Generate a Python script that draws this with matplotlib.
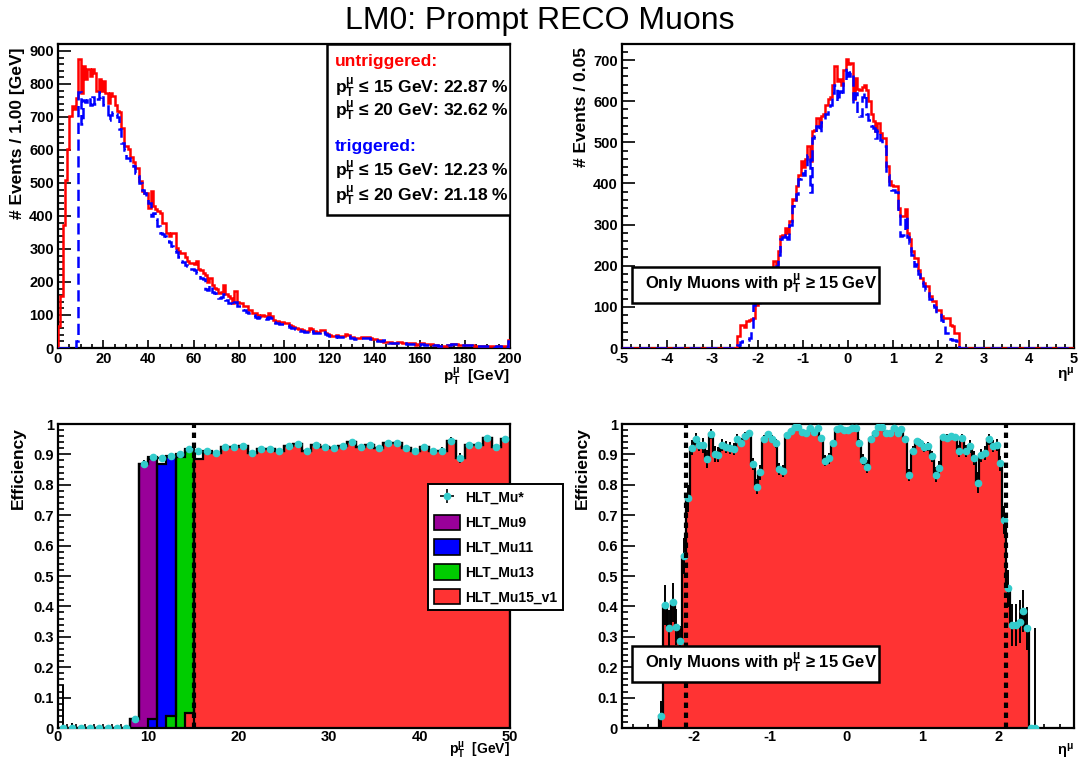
import numpy as np
import matplotlib
matplotlib.use("Agg")
import matplotlib.pyplot as plt
from matplotlib.ticker import MultipleLocator, FuncFormatter
from matplotlib.patches import Rectangle, Patch

plt.rcParams['font.family'] = ['Liberation Sans', 'DejaVu Sans']
plt.rcParams['font.weight'] = 'bold'
plt.rcParams['axes.labelweight'] = 'bold'
plt.rcParams['axes.unicode_minus'] = False
plt.rcParams['mathtext.fontset'] = 'custom'
plt.rcParams['mathtext.rm'] = 'Liberation Sans'
plt.rcParams['mathtext.bf'] = 'Liberation Sans:bold'
plt.rcParams['mathtext.it'] = 'Liberation Sans:italic'

# ---- muon pT spectrum, 1 GeV bins from 0 to 200 GeV ----
pt_untriggered = [
    66, 157, 374, 510, 602, 703, 733, 723, 758, 875,
    773, 854, 814, 844, 824, 844, 834, 778, 814, 778,
    809, 773, 743, 773, 763, 735, 718, 715, 667, 612,
    612, 602, 580, 565, 546, 546, 505, 475, 470, 470,
    425, 475, 430, 420, 414, 409, 379, 379, 349, 339,
    349, 349, 303, 295, 288, 288, 275, 263, 258, 258,
    255, 263, 238, 235, 227, 220, 200, 212, 190, 182,
    180, 167, 170, 192, 165, 157, 150, 136, 172, 140,
    136, 136, 126, 126, 116, 116, 106, 106, 100, 98,
    100, 96, 96, 105, 98, 85, 80, 82, 80, 78,
    77, 76, 70, 67, 65, 62, 58, 57, 55, 53,
    52, 60, 58, 50, 49, 48, 55, 54, 46, 42,
    40, 37, 37, 38, 36, 37, 36, 41, 40, 34,
    33, 31, 30, 31, 34, 33, 34, 34, 30, 27,
    27, 24, 24, 22, 19, 19, 17, 17, 16, 16,
    17, 17, 16, 16, 14, 14, 14, 14, 9, 11,
    14, 14, 11, 11, 12, 12, 9, 9, 7, 7,
    7, 7, 10, 10, 12, 12, 12, 10, 10, 10,
    10, 9, 10, 8, 6, 6, 7, 7, 7, 6,
    6, 7, 6, 5, 6, 6, 5, 6, 5, 24,
]
pt_triggered = [
    0, 0, 0, 0, 0, 0, 0, 0, 20, 775,
    680, 750, 745, 760, 735, 760, 740, 755, 775, 760,
    735, 740, 690, 705, 715, 710, 700, 662, 622, 600,
    576, 576, 560, 551, 530, 520, 500, 480, 470, 460,
    440, 400, 410, 390, 369, 349, 345, 339, 323, 320,
    310, 298, 290, 275, 263, 260, 250, 248, 240, 238,
    235, 227, 225, 212, 210, 180, 177, 190, 170, 167,
    160, 152, 155, 165, 145, 136, 136, 130, 140, 126,
    126, 120, 115, 110, 106, 106, 100, 95, 91, 93,
    91, 90, 88, 95, 90, 78, 75, 76, 74, 72,
    72, 70, 65, 62, 60, 57, 54, 52, 50, 48,
    47, 55, 52, 46, 45, 44, 50, 49, 42, 39,
    37, 34, 34, 35, 33, 34, 33, 37, 36, 31,
    30, 28, 27, 28, 31, 30, 31, 31, 27, 25,
    25, 22, 22, 20, 24, 17, 15, 16, 15, 14,
    15, 16, 14, 14, 13, 13, 13, 12, 8, 10,
    13, 12, 10, 10, 11, 11, 8, 8, 6, 6,
    6, 6, 9, 9, 11, 11, 11, 9, 9, 9,
    9, 8, 9, 7, 5, 5, 6, 6, 6, 5,
    5, 6, 5, 4, 5, 5, 4, 5, 4, 20,
]
pt_cuts = [15, 20]
frac_untriggered = [22.87, 32.62]
frac_triggered = [12.23, 21.18]

# ---- muon eta for pT >= 15 GeV, 0.05 bins from -2.45 to 2.45 ----
eta_untriggered = [
    28, 57, 57, 52, 66, 68, 70, 72, 105, 112,
    125, 140, 150, 160, 178, 195, 212, 205, 235, 272,
    275, 292, 280, 308, 362, 360, 395, 420, 455, 440,
    460, 490, 455, 528, 530, 560, 540, 565, 570, 590,
    605, 610, 640, 686, 650, 655, 640, 675, 703,
    690, 692, 605, 657, 630, 628, 635, 640, 628, 600,
    568, 551, 527, 547, 523, 511, 511, 442, 405, 397,
    393, 393, 340, 320, 320, 337, 280, 264, 235, 219,
    219, 190, 170, 158, 150, 150, 126, 114, 114, 93,
    93, 77, 73, 73, 73, 57, 53, 36, 36,
]
eta_triggered = [
    8, 15, 18, 20, 20, 25, 45, 105, 110, 108,
    120, 130, 145, 155, 170, 190, 195, 200, 225, 265,
    270, 280, 265, 300, 345, 350, 375, 410, 425, 420,
    440, 470, 380, 510, 515, 540, 525, 550, 555, 570,
    580, 590, 620, 640, 600, 625, 615, 650, 680,
    660, 670, 595, 620, 570, 565, 610, 620, 570, 555,
    540, 535, 510, 530, 505, 495, 490, 420, 390, 385,
    385, 380, 330, 272, 275, 320, 270, 255, 225, 200,
    205, 180, 160, 150, 140, 140, 118, 105, 100, 85,
    85, 68, 60, 36, 36, 22, 20, 20, 18,
]
eta_hist_range = (-2.45, 2.45)

# ---- trigger efficiency vs pT, 1 GeV bins from 0 to 50 GeV ----
eff_pt = [
    0, 0, 0, 0, 0, 0, 0, 0, 0.03, 0.87,
    0.890, 0.888, 0.894, 0.901, 0.917, 0.910, 0.912, 0.905, 0.925, 0.923,
    0.928, 0.906, 0.917, 0.917, 0.912, 0.926, 0.933, 0.910, 0.932, 0.924,
    0.922, 0.926, 0.940, 0.924, 0.931, 0.921, 0.936, 0.938, 0.922, 0.912,
    0.925, 0.910, 0.912, 0.945, 0.888, 0.930, 0.930, 0.953, 0.923, 0.950,
]
eff_pt_err = [
    0.14, 0.015, 0.008, 0.005, 0.004, 0.003, 0.003, 0.003, 0.008, 0.012,
    0.01, 0.01, 0.01, 0.01, 0.01, 0.01, 0.01, 0.01, 0.01, 0.01,
    0.01, 0.01, 0.01, 0.01, 0.01, 0.01, 0.01, 0.01, 0.01, 0.01,
    0.01, 0.01, 0.01, 0.01, 0.01, 0.01, 0.01, 0.01, 0.01, 0.01,
    0.01, 0.01, 0.012, 0.012, 0.015, 0.012, 0.012, 0.012, 0.012, 0.012,
]
# single-trigger efficiencies around their thresholds: (first bin edge, values)
trig_names = ['HLT_Mu9', 'HLT_Mu11', 'HLT_Mu13', 'HLT_Mu15_v1']
trig_colors = ['#990099', '#0000ff', '#00cc00', '#ff3333']
trig_start = [8, 10, 12, 14]
trig_eff = [
    [0.03, 0.87, 0.885],
    [0.03, 0.87, 0.89],
    [0.04, 0.89, 0.91],
    [0.05, 0.885, 0.905] + eff_pt[17:],
]

# ---- trigger efficiency vs eta for pT >= 15 GeV, 0.05 bins from -2.45 to 2.5 ----
eff_eta = [
    0.04, 0.405, 0.328, 0.413, 0.333, 0.287, 0.566, 0.755, 0.922,
    0.950, 0.930, 0.930, 0.886, 0.967, 0.901, 0.899, 0.932, 0.925, 0.921,
    0.917, 0.952, 0.939, 0.961, 0.969, 0.868, 0.794, 0.841, 0.951, 0.967,
    0.951, 0.937, 0.853, 0.845, 0.965, 0.976, 0.989, 0.989, 0.973, 0.969,
    0.987, 0.974, 0.987, 0.954, 0.879, 0.887, 0.937, 0.982, 0.987, 0.980,
    0.980, 0.987, 0.987, 0.939, 0.883, 0.860, 0.950, 0.972, 0.989, 0.989,
    0.969, 0.972, 0.987, 0.969, 0.982, 0.950, 0.831, 0.912, 0.943, 0.939,
    0.924, 0.926, 0.894, 0.833, 0.855, 0.956, 0.954, 0.959, 0.956, 0.910,
    0.954, 0.910, 0.926, 0.888, 0.807, 0.897, 0.904, 0.950, 0.928, 0.932,
    0.871, 0.684, 0.459, 0.339, 0.339, 0.350, 0.385, 0.328, 0.0, 0.0,
]
eff_eta_err = [
    0.05, 0.065, 0.06, 0.065, 0.06, 0.05, 0.06, 0.045, 0.025,
    0.02, 0.02, 0.025, 0.03, 0.015, 0.025, 0.025, 0.02, 0.02, 0.02,
    0.02, 0.015, 0.015, 0.012, 0.01, 0.02, 0.025, 0.025, 0.012, 0.01,
    0.012, 0.015, 0.02, 0.02, 0.01, 0.008, 0.006, 0.006, 0.008, 0.008,
    0.006, 0.008, 0.006, 0.01, 0.018, 0.018, 0.012, 0.006, 0.005, 0.006,
    0.006, 0.005, 0.006, 0.012, 0.018, 0.02, 0.01, 0.008, 0.006, 0.006,
    0.008, 0.008, 0.006, 0.008, 0.006, 0.01, 0.02, 0.015, 0.012, 0.012,
    0.015, 0.015, 0.018, 0.025, 0.022, 0.012, 0.012, 0.012, 0.012, 0.02,
    0.012, 0.02, 0.02, 0.022, 0.035, 0.022, 0.022, 0.018, 0.02, 0.02,
    0.025, 0.045, 0.06, 0.07, 0.07, 0.07, 0.07, 0.07, 0.0, 0.33,
]
eff_eta_start = -2.45
eta_fid_cut = 2.1

PT_LABEL = r'$\mathbf{p}^{\mathrm{\mu}}_{\mathbf{T}}$'
ETA_LABEL = r'$\mathrm{\eta}^{\mathrm{\mu}}$'
CYAN = '#33cccc'

W, H = 1080, 762
fig = plt.figure(figsize=(W / 100, H / 100), dpi=100)


def pixel_axes(left, top, right, bottom):
    """axes placed by its pixel box on the canvas"""
    return fig.add_axes([left / W, 1 - bottom / H, (right - left) / W, (bottom - top) / H])


def root_style(ax, xmaj, xmin, ymaj, ymin, fmt=None, xpad=3):
    """inward ticks on left/bottom only, thick frame, bold labels"""
    ax.xaxis.set_major_locator(MultipleLocator(xmaj))
    ax.xaxis.set_minor_locator(MultipleLocator(xmin))
    ax.yaxis.set_major_locator(MultipleLocator(ymaj))
    ax.yaxis.set_minor_locator(MultipleLocator(ymin))
    ax.tick_params(which='both', direction='in', top=False, right=False,
                   width=1.2, labelsize=10.5, pad=3)
    ax.tick_params(axis='x', which='major', length=6, pad=xpad)
    ax.tick_params(axis='x', which='minor', length=3)
    ax.tick_params(axis='y', which='major', length=9)
    ax.tick_params(axis='y', which='minor', length=4.5)
    if fmt is not None:
        ax.yaxis.set_major_formatter(FuncFormatter(fmt))
    for sp in ax.spines.values():
        sp.set_linewidth(1.6)


def axis_labels(ax, xlabel, ylabel, xlabel_y, xsize=11, ysize=12.5, xva='top'):
    ax.set_xlabel(xlabel, loc='right', fontsize=xsize)
    ax.xaxis.label.set_va(xva)
    ax.xaxis.set_label_coords(1.0, xlabel_y)
    ax.set_ylabel(ylabel, loc='top', fontsize=ysize)
    ax.yaxis.set_label_coords(-0.072, 0.99)


def cut_box(ax, x0, y0, x1, y1, text_y):
    ax.add_patch(Rectangle((x0, y0), x1 - x0, y1 - y0, transform=ax.transAxes,
                           fc='white', ec='black', lw=1.8, zorder=6))
    ax.text(x0 + 0.028, text_y, 'Only Muons with ' + PT_LABEL + ' ≥ 15 GeV',
            transform=ax.transAxes, fontsize=12, va='baseline', zorder=7)


fig.text(0.5, 1 - 21 / H, 'LM0: Prompt RECO Muons', ha='center', va='center',
         fontsize=23, fontweight='normal')

# top left: pT spectra
ax1 = pixel_axes(58, 44, 510, 348)
pt_edges = np.arange(len(pt_untriggered) + 1, dtype=float)
ax1.stairs(pt_untriggered, pt_edges, color='#ff0000', lw=1.8, zorder=3)
ax1.stairs(pt_triggered, pt_edges, color='#0000ff', lw=1.8,
           linestyle=(0, (4.5, 2.2)), zorder=4)
ax1.set_xlim(0, 200)
ax1.set_ylim(0, 921)
root_style(ax1, 20, 5, 100, 20)
axis_labels(ax1, PT_LABEL + '  [GeV]', '# Events / 1.00 [GeV]', -0.058)

ax1.add_patch(Rectangle((0.595, 0.4375), 0.405, 0.5625, transform=ax1.transAxes,
                        fc='white', ec='black', lw=1.8, zorder=6))
rows = [('untriggered:', '#ff0000', 0.929)]
rows += [(PT_LABEL + ' ≤ %d GeV: %.2f %%' % (c, f), 'black', y)
         for c, f, y in zip(pt_cuts, frac_untriggered, [0.838, 0.763])]
rows += [('triggered:', '#0000ff', 0.648)]
rows += [(PT_LABEL + ' ≤ %d GeV: %.2f %%' % (c, f), 'black', y)
         for c, f, y in zip(pt_cuts, frac_triggered, [0.566, 0.484])]
for txt, col, y in rows:
    ax1.text(0.612, y, txt, color=col, fontsize=12.6, va='baseline',
             transform=ax1.transAxes, zorder=7)

# top right: eta spectra
ax2 = pixel_axes(622, 44, 1074, 348)
n_pad = int(round((eta_hist_range[0] + 5) / 0.05))
eta_edges = np.linspace(-5, 5, 2 * n_pad + len(eta_untriggered) + 1)
pad = np.zeros(n_pad)
ax2.stairs(np.concatenate([pad, eta_untriggered, pad]), eta_edges,
           color='#ff0000', lw=1.8, zorder=3)
ax2.stairs(np.concatenate([pad, eta_triggered, pad]), eta_edges,
           color='#0000ff', lw=1.8, linestyle=(0, (4.5, 2.2)), zorder=4)
ax2.set_xlim(-5, 5)
ax2.set_ylim(0, 739)
root_style(ax2, 1, 0.2, 100, 20)
axis_labels(ax2, ETA_LABEL, '# Events / 0.05', -0.058)
cut_box(ax2, 0.023, 0.148, 0.569, 0.268, 0.194)

# bottom left: efficiency vs pT
ax3 = pixel_axes(58, 424, 510, 728)
for start, vals, col in zip(trig_start, trig_eff, trig_colors):
    edges = np.arange(start, start + len(vals) + 1, dtype=float)
    ax3.stairs(vals, edges, fill=True, color=col, zorder=2)
    ax3.stairs(vals, edges, color='black', lw=1.6, zorder=2.5)
pt_eff_edges = np.arange(len(eff_pt) + 1, dtype=float)
pt_eff_centers = pt_eff_edges[:-1] + 0.5
ax3.stairs(eff_pt, pt_eff_edges, color='black', lw=1.6, baseline=None, zorder=3)
ax3.errorbar(pt_eff_centers, eff_pt, yerr=eff_pt_err, fmt='none', ecolor='black',
             elinewidth=1.4, capsize=0, zorder=4)
ax3.plot(pt_eff_centers, eff_pt, 'o', color=CYAN, ms=4.5, zorder=5)
ax3.axvline(pt_cuts[0], color='black', lw=3, linestyle=(0, (1.3, 1.1)), zorder=6)
ax3.set_xlim(0, 50)
ax3.set_ylim(0, 1)
root_style(ax3, 10, 1, 0.1, 0.02, fmt=lambda v, p: '%g' % round(v, 2), xpad=1.5)
axis_labels(ax3, PT_LABEL + '  [GeV]', 'Efficiency', -0.108, xsize=10, xva='bottom')

mu_star = ax3.errorbar([np.nan], [np.nan], xerr=[1], yerr=[1], fmt='o', color=CYAN,
                       ecolor='black', elinewidth=1.2, ms=4.5, label='HLT_Mu*')
handles = [mu_star] + [Patch(fc=c, ec='black', lw=1.2) for c in trig_colors]
leg = ax3.legend(handles, ['HLT_Mu*'] + trig_names, loc='upper left',
                 bbox_to_anchor=(428 / W, 1 - 484 / H), bbox_transform=fig.transFigure,
                 fontsize=10, frameon=True, fancybox=False, framealpha=1,
                 edgecolor='black', borderpad=0.4, labelspacing=0.7,
                 handlelength=1.9, handleheight=1.3, handletextpad=0.4,
                 borderaxespad=0)
leg.get_frame().set_linewidth(1.4)
leg.set_zorder(8)

# bottom right: efficiency vs eta
ax4 = pixel_axes(622, 424, 1074, 728)
eta_eff_edges = eff_eta_start + 0.05 * np.arange(len(eff_eta) + 1)
eta_eff_centers = eta_eff_edges[:-1] + 0.025
ax4.stairs(eff_eta, eta_eff_edges, fill=True, color='#ff3333', zorder=2)
ax4.stairs(eff_eta, eta_eff_edges, color='black', lw=1.6, zorder=3)
ax4.errorbar(eta_eff_centers, eff_eta, yerr=eff_eta_err, fmt='none', ecolor='black',
             elinewidth=1.4, capsize=0, zorder=4)
ax4.plot(eta_eff_centers, eff_eta, 'o', color=CYAN, ms=4.5, zorder=5)
for x in (-eta_fid_cut, eta_fid_cut):
    ax4.axvline(x, color='black', lw=3, linestyle=(0, (1.3, 1.1)), zorder=6)
ax4.set_xlim(-2.94, 2.99)
ax4.set_ylim(0, 1)
root_style(ax4, 1, 0.2, 0.1, 0.02, fmt=lambda v, p: '%g' % round(v, 2), xpad=1.5)
axis_labels(ax4, ETA_LABEL, 'Efficiency', -0.108, xsize=10.5, xva='bottom')
cut_box(ax4, 0.023, 0.151, 0.569, 0.270, 0.1985)

fig.savefig('out.png', dpi=100)
